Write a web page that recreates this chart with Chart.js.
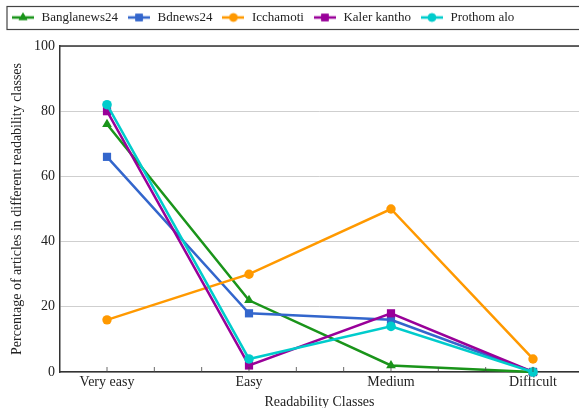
<!DOCTYPE html>
<html><head><meta charset="utf-8">
<script src="https://cdn.jsdelivr.net/npm/chart.js@4/dist/chart.umd.min.js"></script>
<style>html,body{margin:0;padding:0;background:#fff;overflow:hidden}</style>
</head><body>
<canvas id="c" width="579" height="408"></canvas>
<script>
const categories = ['Very easy', 'Easy', 'Medium', 'Difficult'];
const seriesNames = ['Banglanews24', 'Bdnews24', 'Icchamoti', 'Kaler kantho', 'Prothom alo'];
const banglanews24 = [76, 22, 2, 0];
const bdnews24 = [66, 18, 16, 0];
const icchamoti = [16, 30, 50, 4];
const kalerKantho = [80, 2, 18, 0];
const prothomAlo = [82, 4, 14, 0];
const yTickValues = [0, 20, 40, 60, 80, 100];
const xTitle = 'Readability Classes';
const yTitle = 'Percentage of articles in different readability classes';

const seriesValues = [banglanews24, bdnews24, icchamoti, kalerKantho, prothomAlo];
const colors = ['#1a941a', '#3366cc', '#ff9900', '#990099', '#00cccc'];
const markers = ['triangle', 'rect', 'circle', 'rect', 'circle'];
const radii = [5.6, 5.8, 4.7, 5.8, 4.8];

function makeIcon(color, style, r) {
  const cv = document.createElement('canvas');
  cv.width = 22; cv.height = 14;
  const ctx = cv.getContext('2d');
  ctx.strokeStyle = color; ctx.lineWidth = 2.6;
  ctx.beginPath(); ctx.moveTo(0, 7); ctx.lineTo(22, 7); ctx.stroke();
  ctx.fillStyle = color;
  Chart.helpers.drawPoint(ctx, {pointStyle: style, radius: r * 0.9, borderWidth: 0, rotation: 0}, 11, 7);
  ctx.fill();
  return cv;
}

const SERIF = "'Liberation Serif', 'Times New Roman', serif";

const datasets = seriesNames.map((name, i) => ({
  label: name,
  data: seriesValues[i].map((v, k) => ({x: k, y: v})),
  borderColor: colors[i],
  backgroundColor: colors[i],
  borderWidth: 2.5,
  pointStyle: markers[i],
  pointRadius: radii[i],
  pointBorderWidth: 0,
  pointBackgroundColor: colors[i],
  tension: 0,
  clip: false,
  order: seriesNames.length - i
}));

const frame = {
  id: 'frame',
  beforeInit(chart) {
    const lg = chart.legend;
    if (lg) {
      const orig = lg.fit;
      lg.fit = function () { orig.call(this); this.height += 12; };
      const od = lg.draw;
      lg.draw = function () {
        const c = this.ctx; c.save(); c.translate(2, 0); od.call(this); c.restore();
      };
    }
  },
  afterDraw(chart) {
    const ctx = chart.ctx;
    const a = chart.chartArea;
    const xs = chart.scales.x;
    ctx.save();
    ctx.strokeStyle = '#333'; ctx.lineWidth = 1.5;
    ctx.beginPath(); ctx.moveTo(a.left, a.top); ctx.lineTo(a.right, a.top); ctx.stroke();
    ctx.lineWidth = 0.8; ctx.strokeStyle = '#444';
    for (let k = -1; k <= 10; k++) {
      const px = xs.getPixelForValue(k / 3);
      if (px <= a.left + 1 || px >= a.right) continue;
      ctx.beginPath(); ctx.moveTo(px, a.bottom); ctx.lineTo(px, a.bottom - 5); ctx.stroke();
    }
    const hb = chart.legend.legendHitBoxes;
    if (hb && hb.length) {
      const cy = hb[0].top + hb[0].height / 2;
      ctx.strokeStyle = '#444'; ctx.lineWidth = 1.2;
      ctx.strokeRect(hb[0].left - 2, cy - 11, chart.width + 10, 23);
    }
    ctx.restore();
  }
};

new Chart(document.getElementById('c'), {
  type: 'line',
  data: {datasets},
  plugins: [frame],
  options: {
    responsive: false,
    animation: false,
    layout: {autoPadding: false, padding: {left: 0, right: 0, top: 2, bottom: 0}},
    plugins: {
      tooltip: {enabled: false},
      legend: {
        position: 'top',
        align: 'start',
        labels: {
          usePointStyle: true,
          pointStyleWidth: 24,
          padding: 9,
          color: '#222',
          font: {family: SERIF, size: 13},
          generateLabels(chart) {
            return chart.data.datasets.map((ds, i) => ({
              text: ds.label,
              pointStyle: makeIcon(colors[i], markers[i], radii[i]),
              fillStyle: colors[i], strokeStyle: colors[i], lineWidth: 0,
              hidden: false, datasetIndex: i, fontColor: '#222'
            }));
          }
        }
      }
    },
    scales: {
      x: {
        type: 'linear',
        min: -0.331,
        max: 3.324,
        afterBuildTicks(scale) { scale.ticks = categories.map((c, i) => ({value: i})); },
        afterFit(scale) { scale.height = 36; scale.paddingRight = 0; scale.paddingLeft = 0; },
        ticks: {
          callback: (v) => categories[v] ?? '',
          color: '#222', padding: 2, maxRotation: 0, autoSkip: false,
          font: {family: SERIF, size: 14}
        },
        grid: {display: false, drawTicks: false},
        border: {display: true, color: '#333', width: 1.5},
        title: {display: true, text: xTitle, color: '#222', font: {family: SERIF, size: 14}, padding: {top: 0, bottom: -3}}
      },
      y: {
        min: 0, max: 100,
        afterBuildTicks(scale) { scale.ticks = yTickValues.map(v => ({value: v})); },
        afterFit(scale) { scale.width = 60; },
        ticks: {color: '#222', padding: 5, font: {family: SERIF, size: 14}},
        grid: {color: '#cfcfcf', lineWidth: 1, drawTicks: false},
        border: {display: true, color: '#333', width: 1.5},
        title: {display: true, text: yTitle, color: '#222', font: {family: SERIF, size: 14}, padding: {top: 9, bottom: 0}}
      }
    }
  }
});
</script>
</body></html>
